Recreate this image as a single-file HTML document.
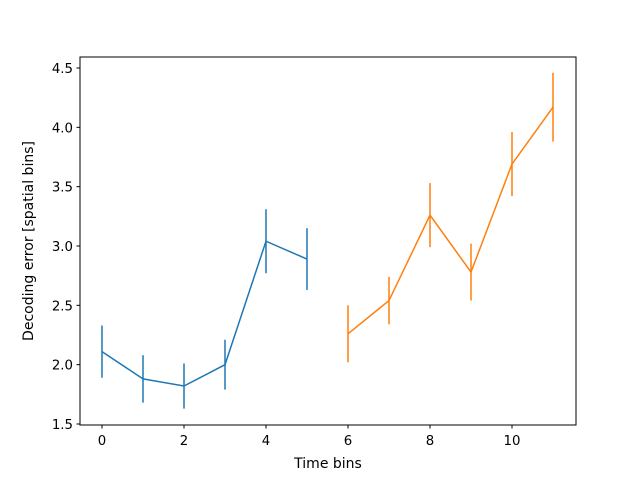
<!DOCTYPE html>
<html><head><meta charset="utf-8"><style>
body{margin:0;background:#fff;}
svg{display:block;font-family:"DejaVu Sans","Liberation Sans",sans-serif;}
</style></head><body>
<svg id="chart" width="640" height="478">
<rect x="80" y="57" width="496" height="368" fill="#fff" stroke="#000" stroke-width="1"/>
<g id="marks"></g>
<g id="axes"></g>
<text x="328" y="468" font-size="14" text-anchor="middle">Time bins</text>
<text transform="translate(33,241) rotate(-90)" font-size="14" text-anchor="middle">Decoding error [spatial bins]</text>
</svg>
<script>
const blueX=[0,1,2,3,4,5];
const blueY=[2.11,1.88,1.82,2.00,3.04,2.89];
const blueErr=[0.22,0.20,0.19,0.21,0.27,0.26];
const orangeX=[6,7,8,9,10,11];
const orangeY=[2.26,2.54,3.26,2.78,3.69,4.17];
const orangeErr=[0.24,0.20,0.27,0.24,0.27,0.29];
const xTicks=[0,2,4,6,8,10];
const yTicks=[1.5,2.0,2.5,3.0,3.5,4.0,4.5];
const xs=v=>102+v*41;
const ys=v=>424-(v-1.5)*118.67;
const NS='http://www.w3.org/2000/svg';
const marks=document.getElementById('marks'),axes=document.getElementById('axes');
function mk(t,a,p){const e=document.createElementNS(NS,t);for(const k in a)e.setAttribute(k,a[k]);p.appendChild(e);return e;}
function series(X,Y,E,c,name){
  const pl=mk('polyline',{points:X.map((x,i)=>xs(x)+','+ys(Y[i])).join(' '),fill:'none',stroke:c,'stroke-width':1.5},marks);
  
  
  X.forEach((x,i)=>{
    const l=mk('line',{x1:xs(x),x2:xs(x),y1:ys(Y[i]-E[i]),y2:ys(Y[i]+E[i]),stroke:c,'stroke-width':1.5},marks);
    
    
  });
}
series(blueX,blueY,blueErr,'#1f77b4','blue-series');
series(orangeX,orangeY,orangeErr,'#ff7f0e','orange-series');
xTicks.forEach(v=>{
  const l=mk('line',{x1:xs(v),x2:xs(v),y1:425,y2:428.5,stroke:'#000'},axes);
  
  
  const t=mk('text',{x:xs(v),y:445,'font-size':13.3,'text-anchor':'middle'},axes);
  t.textContent=v;
  
  
});
yTicks.forEach(v=>{
  const l=mk('line',{x1:76.5,x2:80,y1:ys(v),y2:ys(v),stroke:'#000'},axes);
  
  
  const t=mk('text',{x:73,y:ys(v)+5,'font-size':13.3,'text-anchor':'end'},axes);
  t.textContent=v.toFixed(1);
  
  
});
</script>
</body></html>
